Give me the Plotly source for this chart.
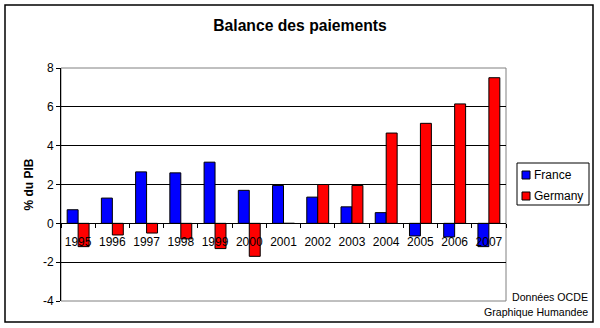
import plotly.graph_objects as go

years = ["1995", "1996", "1997", "1998", "1999", "2000", "2001",
         "2002", "2003", "2004", "2005", "2006", "2007"]
france = [0.7, 1.3, 2.65, 2.6, 3.15, 1.7, 1.95, 1.35, 0.85, 0.55, -0.65, -0.7, -1.2]
germany = [-1.2, -0.6, -0.5, -0.8, -1.3, -1.7, 0.0, 2.0, 1.95, 4.65, 5.15, 6.15, 7.5]
ytick_vals = [-4, -2, 0, 2, 4, 6, 8]
ytick_text = ["-4", "-2", "0", "2", "4", "6", "8"]
series_names = ["France", "Germany"]
series_colors = ["#0000FF", "#FF0000"]

W, H = 600, 328
L, R, T, B = 61, 94, 68, 27
pw, ph = W - L - R, H - T - B
ymin, ymax = -4, 8

def px_x(x):
    return (x - L) / pw

def px_y(y):
    return (H - B - y) / ph

font = "Arial, Liberation Sans, sans-serif"

fig = go.Figure()
for name, vals, col in zip(series_names, [france, germany], series_colors):
    fig.add_bar(x=years, y=vals, name=name, showlegend=False,
                marker=dict(color=col, line=dict(color="black", width=1)))

zero_pos = (0 - ymin) / (ymax - ymin)

fig.update_layout(
    width=W, height=H,
    margin=dict(l=L, r=R, t=T, b=B),
    paper_bgcolor="white", plot_bgcolor="white",
    font=dict(family=font, size=12, color="black"),
    barmode="group", bargap=0.36, bargroupgap=0,
    title=dict(text="<b>Balance des paiements</b>", x=0.5, xanchor="center",
               y=1 - 26 / H, yanchor="middle", font=dict(size=15.7)),
    showlegend=False,
    xaxis=dict(type="category", anchor="free", position=zero_pos,
               showline=True, linecolor="black", linewidth=1,
               ticks="outside", ticklen=4, tickcolor="black", tickson="boundaries",
               showgrid=False, tickangle=0, ticklabelstandoff=7,
               tickfont=dict(size=12)),
    yaxis=dict(range=[ymin, ymax], tickvals=ytick_vals, ticktext=ytick_text,
               showline=True, linecolor="black",
               linewidth=1, ticks="outside", ticklen=4, tickcolor="black",
               showgrid=True, gridcolor="black", gridwidth=1, zeroline=False,
               tickfont=dict(size=12),
               title=dict(text="<b>% du PIB</b>", font=dict(size=12), standoff=6)),
)

# plot area border (grey)
fig.add_shape(type="rect", xref="paper", yref="paper", x0=0, x1=1, y0=0, y1=1,
              line=dict(color="#808080", width=1), layer="below")
# outer chart border
fig.add_shape(type="rect", xref="paper", yref="paper",
              x0=px_x(5), x1=px_x(593), y0=px_y(322), y1=px_y(5),
              line=dict(color="black", width=1.5))

# legend (drawn manually)
fig.add_shape(type="rect", xref="paper", yref="paper",
              x0=px_x(517), x1=px_x(589), y0=px_y(205), y1=px_y(163),
              line=dict(color="black", width=1), fillcolor="white")
for i, (name, col) in enumerate(zip(series_names, series_colors)):
    cy = 175 + i * 21
    fig.add_shape(type="rect", xref="paper", yref="paper",
                  x0=px_x(522), x1=px_x(530), y0=px_y(cy + 4), y1=px_y(cy - 4),
                  line=dict(color="black", width=1), fillcolor=col)
    fig.add_annotation(text=name, xref="paper", yref="paper",
                       x=px_x(532), y=px_y(cy), xanchor="left", yanchor="middle",
                       showarrow=False, font=dict(size=12))

fig.add_annotation(text="Données OCDE", xref="paper", yref="paper",
                   x=px_x(590), y=px_y(297), xanchor="right", yanchor="middle",
                   showarrow=False, font=dict(size=10.6))
fig.add_annotation(text="Graphique Humandee", xref="paper", yref="paper",
                   x=px_x(590), y=px_y(312), xanchor="right", yanchor="middle",
                   showarrow=False, font=dict(size=10.6))

fig.write_html("out.html")
